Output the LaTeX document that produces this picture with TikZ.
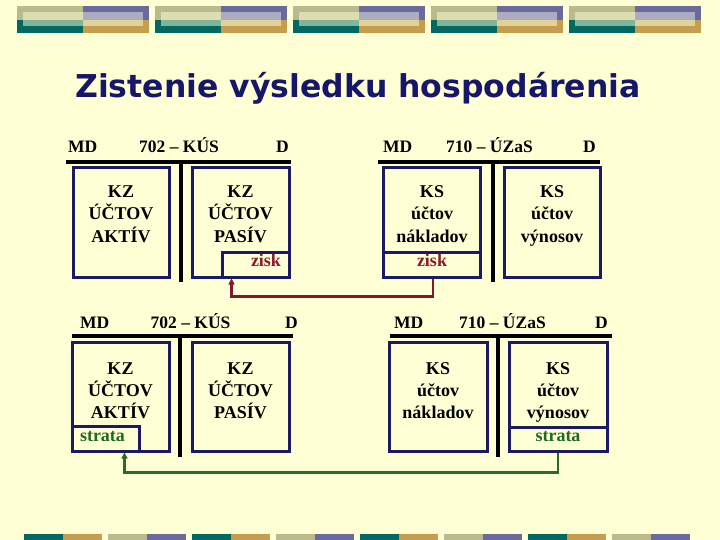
\documentclass[tikz,border=0pt]{standalone}
\usepackage{fontspec}
\setmainfont{Liberation Serif}
\newfontfamily\titlefamily{DejaVu Sans}
\usetikzlibrary{calc,arrows.meta}
\definecolor{bg}{HTML}{FFFFD6}
\definecolor{navy}{HTML}{1B1B63}
\definecolor{titlec}{HTML}{16166A}
\definecolor{ziskc}{HTML}{8A1A2C}
\definecolor{stratac}{HTML}{1F6A1F}
\definecolor{arrred}{HTML}{7E1A2A}
\definecolor{arrgreen}{HTML}{2A6A2A}
\definecolor{khaki}{HTML}{BABA8C}
\definecolor{khakiL}{HTML}{DCDDB1}
\definecolor{purp}{HTML}{6A6A9E}
\definecolor{purpL}{HTML}{ACACC0}
\definecolor{teal}{HTML}{006A62}
\definecolor{tealL}{HTML}{80B59C}
\definecolor{gold}{HTML}{C49E4C}
\definecolor{goldL}{HTML}{E1D29A}
\newcommand\bodyf{\fontsize{18}{22}\selectfont\bfseries}
\newcommand\hdrf{\fontsize{17.5}{22}\selectfont\bfseries}
\newcommand\titlef{\titlefamily\fontsize{31.5}{36}\selectfont\bfseries}
\begin{document}
\begin{tikzpicture}[x=1pt,y=-1pt,
  txt/.style={font=\bodyf, inner sep=0pt, anchor=base, text=black},
  hdr/.style={font=\hdrf, inner sep=0pt, anchor=base, text=black},
  zisktxt/.style={font=\bodyf, inner sep=0pt, anchor=base, text=ziskc},
  stratatxt/.style={font=\bodyf, inner sep=0pt, anchor=base, text=stratac},
  acbox/.style={draw=navy, line width=3pt, inner sep=0pt, minimum height=109pt},
  subbox/.style={draw=navy, line width=3pt, inner sep=0pt, minimum height=25pt},
  tline/.style={line width=4pt, black},
  redarr/.style={draw=arrred, line width=2.5pt, -{Triangle[length=6pt,width=6pt]}},
  greenarr/.style={draw=arrgreen, line width=2.5pt, -{Triangle[length=6pt,width=6pt]}}]
\fill[bg] (0,0) rectangle (720,540);
\useasboundingbox (0,0) rectangle (720,540);
% top banner
\foreach \i in {0,...,4}{
  \pgfmathsetmacro\xo{17+138*\i}
  \fill[khaki] (\xo,6) rectangle (\xo+66,20);
  \fill[purp] (\xo+66,6) rectangle (\xo+132,20);
  \fill[teal] (\xo,20) rectangle (\xo+66,33);
  \fill[gold] (\xo+66,20) rectangle (\xo+132,33);
  \fill[khakiL] (\xo+6,12) rectangle (\xo+66,20);
  \fill[purpL] (\xo+66,12) rectangle (\xo+126,20);
  \fill[tealL] (\xo+6,20) rectangle (\xo+66,26);
  \fill[goldL] (\xo+66,20) rectangle (\xo+126,26);
}
% bottom strip
\foreach \i in {0,...,7}{
  \pgfmathsetmacro\xo{24+84*\i}
  \ifodd\i
    \fill[khaki] (\xo,534) rectangle (\xo+39,540);
    \fill[purp] (\xo+39,534) rectangle (\xo+78,540);
  \else
    \fill[teal] (\xo,534) rectangle (\xo+39,540);
    \fill[gold] (\xo+39,534) rectangle (\xo+78,540);
  \fi
}
% title
\node[font=\titlef, text=titlec, inner sep=0pt, anchor=base] (title) at (358,98) {Zistenie výsledku hospodárenia};

% ===== T1 top-left =====
\node[hdr, anchor=base west] (md1) at (68,153) {MD};
\node[hdr] (n1) at (179,153) {702 – KÚS};
\node[hdr, anchor=base east] (d1) at (289,153) {D};
\draw[tline] (66,162) -- (291,162);
\draw[tline] (181,162) -- (181,282);
\node[acbox, minimum width=96pt] (a1) at (121,222.5) {};
\node[acbox, minimum width=97pt] (p1) at (240.5,222.5) {};
\node[subbox, minimum width=67pt] (zisk1) at (255.5,264.5) {};
\node[zisktxt] (zt1) at (266,266) {zisk};
\node[txt] (a1l1) at (121,198) {KZ};
\node[txt] (a1l2) at (121,220) {ÚČTOV};
\node[txt] (a1l3) at (121,242) {AKTÍV};
\node[txt] (p1l1) at (240.5,198) {KZ};
\node[txt] (p1l2) at (240.5,220) {ÚČTOV};
\node[txt] (p1l3) at (240.5,242) {PASÍV};

% ===== T2 top-right =====
\node[hdr, anchor=base west] (md2) at (383,153) {MD};
\node[hdr] (n2) at (489.5,153) {710 – ÚZaS};
\node[hdr, anchor=base east] (d2) at (596,153) {D};
\draw[tline] (378,162) -- (600,162);
\draw[tline] (493,162) -- (493,282);
\node[acbox, minimum width=97pt] (c2) at (431.5,222.5) {};
\node[acbox, minimum width=96pt] (v2) at (552,222.5) {};
\node[subbox, minimum width=97pt] (zisk2) at (431.5,264.5) {};
\node[zisktxt] (zt2) at (432,266) {zisk};
\node[txt] (c2l1) at (432,198) {KS};
\node[txt] (c2l2) at (432,220) {účtov};
\node[txt] (c2l3) at (432,242) {nákladov};
\node[txt] (v2l1) at (552,198) {KS};
\node[txt] (v2l2) at (552,220) {účtov};
\node[txt] (v2l3) at (552,242) {výnosov};

% ===== T3 bottom-left =====
\node[hdr, anchor=base west] (md3) at (80,328) {MD};
\node[hdr] (n3) at (190.5,328) {702 – KÚS};
\node[hdr, anchor=base east] (d3) at (298,328) {D};
\draw[tline] (72,336) -- (293,336);
\draw[tline] (180,336) -- (180,457);
\node[acbox, minimum width=97pt] (a3) at (120.5,396.5) {};
\node[acbox, minimum width=97pt] (p3) at (240.5,396.5) {};
\node[subbox, minimum width=67pt] (strata3) at (105.5,438.5) {};
\node[stratatxt] (st3) at (102.5,441) {strata};
\node[txt] (a3l1) at (120.5,374) {KZ};
\node[txt] (a3l2) at (120.5,396) {ÚČTOV};
\node[txt] (a3l3) at (120.5,418) {AKTÍV};
\node[txt] (p3l1) at (240.5,374) {KZ};
\node[txt] (p3l2) at (240.5,396) {ÚČTOV};
\node[txt] (p3l3) at (240.5,418) {PASÍV};

% ===== T4 bottom-right =====
\node[hdr, anchor=base west] (md4) at (394,328) {MD};
\node[hdr] (n4) at (502.5,328) {710 – ÚZaS};
\node[hdr, anchor=base east] (d4) at (608,328) {D};
\draw[tline] (390,336) -- (612,336);
\draw[tline] (498,336) -- (498,457);
\node[acbox, minimum width=98pt] (c4) at (438,396.5) {};
\node[acbox, minimum width=98pt] (v4) at (558,396.5) {};
\node[subbox, minimum width=98pt, minimum height=24pt] (strata4) at (558,439) {};
\node[stratatxt] (st4) at (558,441) {strata};
\node[txt] (c4l1) at (438,374) {KS};
\node[txt] (c4l2) at (438,396) {účtov};
\node[txt] (c4l3) at (438,418) {nákladov};
\node[txt] (v4l1) at (558,374) {KS};
\node[txt] (v4l2) at (558,396) {účtov};
\node[txt] (v4l3) at (558,418) {výnosov};

% connectors
\draw[redarr] ($(zisk2.south)+(1.5,0)$) |- ($(zisk1.south west)+(11,18)$) -- ($(zisk1.south west)+(11,0)$);
\draw[greenarr] (strata4.south) |- ($(strata3.south west)+(54,20)$) -- ($(strata3.south west)+(54,0)$);
\end{tikzpicture}
\end{document}
